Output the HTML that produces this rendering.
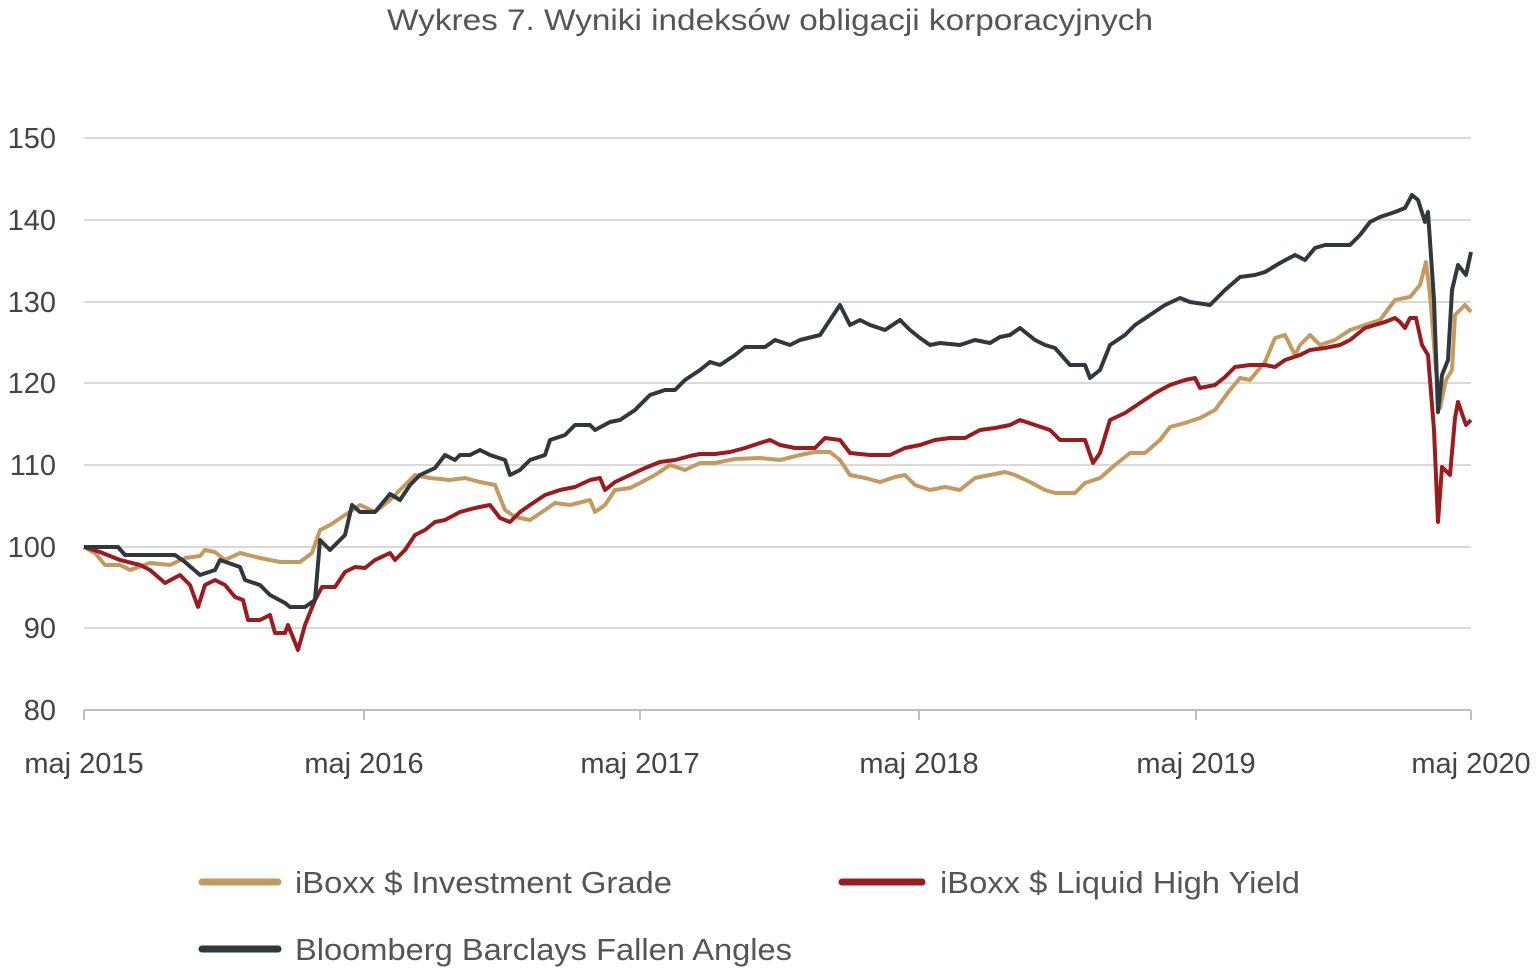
<!DOCTYPE html>
<html><head><meta charset="utf-8"><style>
html,body{margin:0;padding:0;background:#fff}
svg{display:block}
text{font-family:"Liberation Sans",sans-serif}
</style></head><body>
<svg width="1540" height="970" viewBox="0 0 1540 970" xmlns="http://www.w3.org/2000/svg">
<text x="387" y="30" font-size="30" fill="#555" textLength="766" lengthAdjust="spacingAndGlyphs">Wykres 7. Wyniki indeksów obligacji korporacyjnych</text>
<g stroke="#d9d9d9" stroke-width="2">
<line x1="84" y1="138" x2="1471" y2="138"/>
<line x1="84" y1="220" x2="1471" y2="220"/>
<line x1="84" y1="302" x2="1471" y2="302"/>
<line x1="84" y1="383" x2="1471" y2="383"/>
<line x1="84" y1="465" x2="1471" y2="465"/>
<line x1="84" y1="547" x2="1471" y2="547"/>
<line x1="84" y1="628" x2="1471" y2="628"/>
</g>
<g stroke="#bfbfbf" stroke-width="2">
<line x1="84" y1="710" x2="1471" y2="710"/>
<line x1="84" y1="710" x2="84" y2="720"/><line x1="364" y1="710" x2="364" y2="720"/>
<line x1="640" y1="710" x2="640" y2="720"/><line x1="919" y1="710" x2="919" y2="720"/>
<line x1="1196" y1="710" x2="1196" y2="720"/><line x1="1471" y1="710" x2="1471" y2="720"/>
</g>
<g font-size="29" fill="#444" text-anchor="end">
<text x="56" y="148">150</text><text x="56" y="230">140</text><text x="56" y="312">130</text>
<text x="56" y="393">120</text><text x="56" y="475">110</text><text x="56" y="557">100</text>
<text x="56" y="638">90</text><text x="56" y="720">80</text>
</g>
<g font-size="29" fill="#444" text-anchor="middle">
<text x="84" y="773">maj 2015</text><text x="364" y="773">maj 2016</text><text x="640" y="773">maj 2017</text>
<text x="919" y="773">maj 2018</text><text x="1196" y="773">maj 2019</text><text x="1471" y="773">maj 2020</text>
</g>
<g fill="none" stroke-width="4" stroke-linejoin="round">
<polyline stroke="#c49a5e" points="84,547 95,553 105,565 120,565 130,570 150,563 170,565 185,558 200,556 205,550 215,552 225,560 240,553 260,558 280,562 300,562 312,553 320,530 330,525 345,515 360,505 375,512 390,500 405,485 415,475 430,478 450,480 465,478 480,482 495,485 505,510 515,517 530,520 545,510 555,503 570,505 590,500 595,512 605,505 615,490 630,488 640,483 655,475 670,465 685,470 700,463 715,463 735,459 760,458 780,460 800,455 815,452 830,452 840,460 850,475 865,478 880,482 895,477 905,475 915,485 930,490 945,487 960,490 975,478 990,475 1005,472 1015,475 1030,482 1045,490 1055,493 1075,493 1085,483 1100,478 1115,465 1130,453 1145,453 1160,440 1170,427 1185,423 1200,418 1215,410 1230,390 1240,378 1250,380 1265,362 1275,338 1285,335 1295,355 1300,345 1310,335 1320,345 1335,340 1350,330 1365,325 1380,320 1395,300 1410,297 1420,285 1426,262 1430,295 1436,370 1440,408 1446,380 1452,370 1455,315 1465,305 1471,312"/>
<polyline stroke="#9b1b1f" points="84,547 100,552 120,560 140,565 150,570 165,583 180,575 190,585 198,607 205,585 215,580 225,585 235,597 243,600 248,620 260,620 270,615 275,633 285,633 288,625 298,650 305,625 315,600 322,587 335,587 345,572 355,567 365,568 375,560 390,553 395,560 405,550 415,535 425,530 435,522 445,520 460,512 475,508 490,505 500,518 510,522 520,512 530,505 545,495 560,490 575,487 590,480 600,478 605,490 615,482 630,475 645,468 660,462 675,460 690,456 700,454 715,454 730,452 745,448 760,443 770,440 780,445 795,448 815,448 825,438 840,440 850,453 870,455 890,455 905,448 920,445 935,440 950,438 965,438 980,430 995,428 1010,425 1020,420 1035,425 1050,430 1060,440 1075,440 1085,440 1093,463 1100,453 1110,420 1125,413 1140,403 1155,393 1170,385 1185,380 1195,378 1200,388 1215,385 1225,377 1235,367 1250,365 1265,365 1275,367 1285,360 1300,355 1310,350 1325,348 1340,345 1350,340 1365,328 1375,325 1385,322 1395,318 1400,322 1405,328 1410,318 1416,318 1422,345 1428,355 1434,430 1438,522 1442,467 1450,475 1455,418 1458,402 1466,425 1471,420"/>
<polyline stroke="#2f383d" points="84,547 118,547 125,555 175,555 185,562 200,575 215,570 220,560 240,567 245,580 260,585 270,595 285,603 290,607 305,607 315,600 320,540 330,550 340,540 345,535 352,505 360,512 375,512 390,494 400,500 410,485 420,475 435,468 445,455 455,460 460,455 470,455 480,450 490,455 505,460 510,475 520,470 530,460 545,455 550,440 565,435 575,425 590,425 595,430 610,422 620,420 635,410 650,395 665,390 675,390 685,380 700,370 710,362 720,365 735,355 745,347 765,347 775,340 790,345 800,340 820,335 830,320 840,305 850,325 860,320 870,325 885,330 900,320 910,330 920,338 930,345 940,343 960,345 975,340 990,343 1000,337 1010,335 1020,328 1035,340 1045,345 1055,348 1070,365 1085,365 1090,378 1100,370 1110,345 1125,335 1135,325 1150,315 1165,305 1180,298 1190,302 1210,305 1225,290 1240,277 1255,275 1265,272 1280,263 1295,255 1305,260 1315,248 1325,245 1350,245 1360,235 1370,222 1380,217 1395,212 1405,208 1412,195 1418,200 1425,222 1428,212 1434,300 1438,412 1442,375 1448,360 1452,290 1458,265 1466,275 1471,252"/>
</g>
<g stroke-width="7" stroke-linecap="round">
<line x1="202" y1="882" x2="278" y2="882" stroke="#c49a5e"/>
<line x1="842" y1="882" x2="922" y2="882" stroke="#9b1b1f"/>
<line x1="202" y1="949" x2="278" y2="949" stroke="#2f383d"/>
</g>
<g font-size="31" fill="#555">
<text x="295" y="893" textLength="377" lengthAdjust="spacingAndGlyphs">iBoxx $ Investment Grade</text>
<text x="940" y="893" textLength="360" lengthAdjust="spacingAndGlyphs">iBoxx $ Liquid High Yield</text>
<text x="295" y="960" textLength="497" lengthAdjust="spacingAndGlyphs">Bloomberg Barclays Fallen Angles</text>
</g>
</svg>
</body></html>
